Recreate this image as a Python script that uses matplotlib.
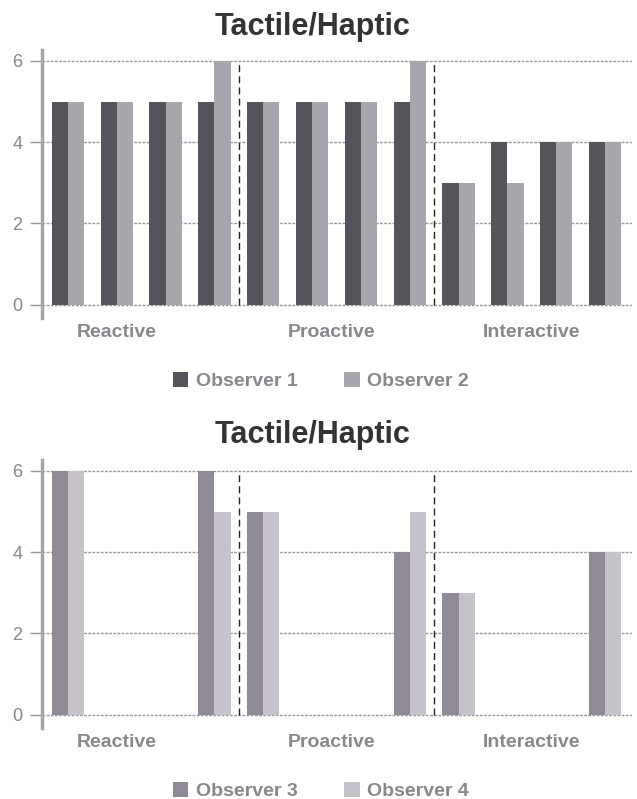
import numpy as np
import matplotlib
matplotlib.use("Agg")
import matplotlib.pyplot as plt

plt.rcParams["font.family"] = ["Liberation Sans", "DejaVu Sans"]

# slots: 4 per phase, 12 in total
phases = ["Reactive", "Proactive", "Interactive"]
phase_label_pos = [1.0, 5.4, 9.5]
dividers = [3.5, 7.5]

obs1 = [5, 5, 5, 5, 5, 5, 5, 5, 3, 4, 4, 4]
obs2 = [5, 5, 5, 6, 5, 5, 5, 6, 3, 3, 4, 4]

obs3 = [6, 0, 0, 6, 5, 0, 0, 4, 3, 0, 0, 4]
obs4 = [6, 0, 0, 5, 5, 0, 0, 5, 3, 0, 0, 4]

yticks = [0, 2, 4, 6]

W, H = 637, 799
fig = plt.figure(figsize=(W / 100, H / 100), dpi=100)

grid_col = "#9a969c"
label_col = "#8a878c"
title_col = "#333333"


def draw_panel(rect, a, b, name_a, name_b, col_a, col_b, title_pad):
    ax = fig.add_axes(rect)
    x = np.arange(len(a))
    w = 0.33
    ax.bar(x - w / 2, a, w, color=col_a, label=name_a, zorder=3)
    ax.bar(x + w / 2, b, w, color=col_b, label=name_b, zorder=3)
    ax.set_xlim(-0.53, 11.55)
    ax.set_ylim(-0.33, 6.27)
    for y in yticks:
        ax.axhline(y, color=grid_col, lw=1.0, ls=(0, (2, 1)), zorder=1)
    for d in dividers:
        ax.plot([d, d], [0, 6], color="#222222", lw=1.0, ls=(0, (5, 3)), zorder=4)
    for s in ["top", "right", "bottom"]:
        ax.spines[s].set_visible(False)
    ax.spines["left"].set_color("#a7a3a9")
    ax.spines["left"].set_linewidth(2.5)
    ax.set_xticks([])
    ax.set_yticks(yticks)
    ax.tick_params(axis="y", length=9, width=1.0, color=grid_col,
                   labelcolor=label_col, labelsize=13, pad=5)
    for p, lab in zip(phase_label_pos, phases):
        ax.text(p, -0.055, lab, transform=ax.get_xaxis_transform(),
                ha="center", va="center", fontsize=14, fontweight="bold",
                color=label_col)
    ax.set_title("Tactile/Haptic", x=0.459, pad=title_pad, fontsize=22,
                 fontweight="bold", color=title_col)
    leg = ax.legend(loc="center", bbox_to_anchor=(0.473, -0.235), ncol=2,
                    frameon=False, handlelength=0.78, handleheight=0.78,
                    handletextpad=0.4, columnspacing=2.4,
                    prop={"size": 14, "weight": "bold"})
    for t in leg.get_texts():
        t.set_color(label_col)
    return ax


draw_panel([42 / W, 1 - 318 / H, 590 / W, 268 / H], obs1, obs2,
           "Observer 1", "Observer 2", "#57535a", "#a9a5ad", 11)
draw_panel([42 / W, 1 - 728 / H, 590 / W, 268 / H], obs3, obs4,
           "Observer 3", "Observer 4", "#8f8a96", "#c5c3c9", 12)

fig.savefig("out.png", dpi=100, facecolor="white")
